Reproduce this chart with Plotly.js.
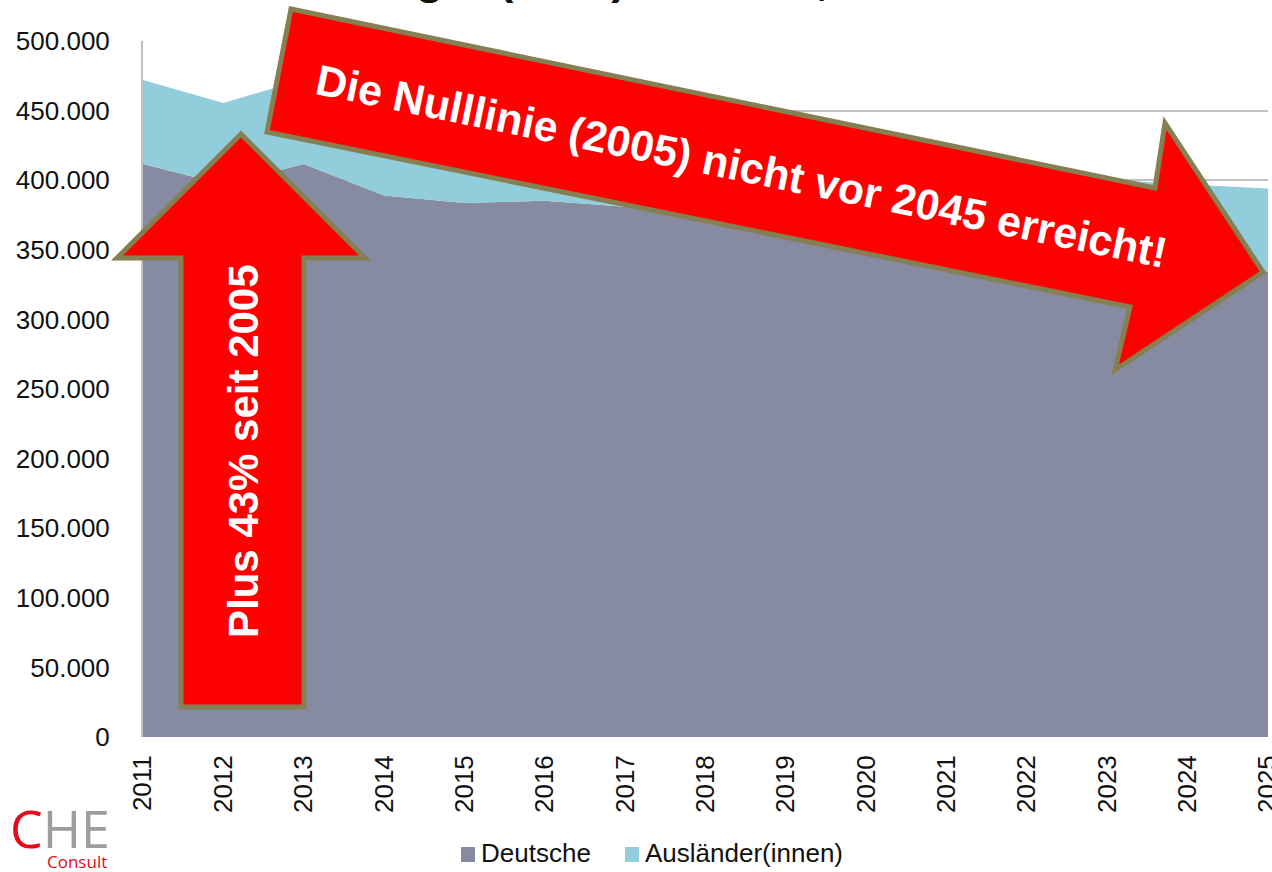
<!DOCTYPE html>
<html>
<head>
<meta charset="utf-8">
<script src="https://cdn.plot.ly/plotly-3.0.1.min.js"></script>
<style>
  html, body { margin: 0; padding: 0; background: #fff; width: 1272px; height: 872px; overflow: hidden; }
  #chart { width: 1272px; height: 872px; display: block; }
</style>
</head>
<body>
<div id="chart"></div>
<script>
// Data
let years = [2011, 2012, 2013, 2014, 2015, 2016, 2017, 2018, 2019, 2020, 2021, 2022, 2023, 2024, 2025]
let deutsche = [411600, 397000, 411600, 389000, 383600, 385200, 381000, 376000, 369000, 361000, 352000, 344000, 340000, 337000, 334000]
let auslaender = [60400, 58500, 60900, 77000, 77400, 70800, 69000, 68000, 67000, 66000, 66000, 64000, 60500, 60000, 60000]
let seriesNames = ["Deutsche", "Ausländer(innen)"]
let seriesColors = ["#878BA1", "#92CDDC"]
let yTicks = [0, 50000, 100000, 150000, 200000, 250000, 300000, 350000, 400000, 450000, 500000]

// plot area in pixels, used to place arrows and the legend
const L = 143, R = 1268, T = 41, B = 737
function px(x) { return (x - L) / (R - L) }
function py(y) { return (B - y) / (B - T) }
function poly(pts) {
  return pts.map((p, i) => (i ? "L" : "M") + px(p[0]).toFixed(5) + "," + py(p[1]).toFixed(5)).join(" ") + " Z"
}

let font = "Liberation Sans, Arial, sans-serif"

// Create the stacked area traces
let trace1 = {
  x: years, y: deutsche, name: seriesNames[0],
  stackgroup: "one", mode: "lines", line: {width: 0},
  fillcolor: seriesColors[0], showlegend: false, hoverinfo: "skip"
}
let trace2 = {
  x: years, y: auslaender, name: seriesNames[1],
  stackgroup: "one", mode: "lines", line: {width: 0},
  fillcolor: seriesColors[1], showlegend: false, hoverinfo: "skip"
}

let arrowStyle = {type: "path", xref: "paper", yref: "paper", fillcolor: "#FF0000",
  line: {color: "#857F52", width: 5}, layer: "above"}

let upArrow = Object.assign({}, arrowStyle, {
  path: poly([[241, 134], [365, 258], [304, 258], [304, 707], [181, 707], [181, 258], [117, 258]])
})
let rightArrow = Object.assign({}, arrowStyle, {
  path: poly([[291, 9], [1155, 188], [1165, 123], [1263, 272], [1115, 370], [1130, 307], [267, 132]])
})

// legend drawn by hand (Plotly's legend pushes the margins)
let legendX = [461, 625]
let legendShapes = legendX.map((x, i) => ({
  type: "rect", xref: "paper", yref: "paper", x0: px(x), x1: px(x + 14), y0: py(862), y1: py(847),
  fillcolor: seriesColors[i], line: {width: 0}
}))
let legendTexts = legendX.map((x, i) => ({
  text: seriesNames[i], xref: "paper", yref: "paper", x: px(x + 18), y: py(853),
  xanchor: "left", yanchor: "middle", showarrow: false,
  font: {family: font, size: 26, color: "#111"}
}))

let layout = {
  width: 1272, height: 872,
  margin: {l: L, r: 1272 - R, t: T, b: 872 - B},
  paper_bgcolor: "#fff", plot_bgcolor: "#fff",
  separators: ",.",
  showlegend: false,
  font: {family: font, size: 26, color: "#111"},
  xaxis: {
    type: "linear", range: [2011, 2025], tickvals: years, ticktext: years.map(String),
    tickangle: -90, showgrid: false, zeroline: false, showline: false,
    ticks: "", ticklabelstandoff: 12, ticklabeloverflow: "allow", automargin: false,
    tickfont: {family: font, size: 26, color: "#111"}
  },
  yaxis: {
    range: [0, 500000], tickvals: yTicks, tickformat: ",d",
    showgrid: true, gridcolor: "#C0C0C0", gridwidth: 2, zeroline: false,
    showline: true, linecolor: "#C0C0C0", linewidth: 2, layer: "below traces",
    ticks: "", ticklabelstandoff: 26, automargin: false,
    tickfont: {family: font, size: 26, color: "#111"}
  },
  shapes: [upArrow, rightArrow].concat(legendShapes),
  annotations: [
    {text: "Studienanfänger (2011) bis 2025, Deutschland", xref: "paper", yref: "paper",
      x: px(129), y: py(-22), xanchor: "left", yanchor: "middle", showarrow: false,
      font: {family: font, size: 45, color: "#111", weight: "bold"}},
    {text: "Die Nulllinie (2005) nicht vor 2045 erreicht!", xref: "paper", yref: "paper",
      x: px(741), y: py(166), xanchor: "center", yanchor: "middle", showarrow: false,
      textangle: 11.6, font: {family: font, size: 43, color: "#fff", weight: "bold"}},
    {text: "Plus 43% seit 2005", xref: "paper", yref: "paper",
      x: px(243), y: py(451), xanchor: "center", yanchor: "middle", showarrow: false,
      textangle: -90, font: {family: font, size: 42, color: "#fff", weight: "bold"}},
    {text: "<span style='color:#E30A1A'>C</span><span style='color:#9D9D9C'>HE</span>",
      xref: "paper", yref: "paper", x: px(60), y: py(827), xanchor: "center", yanchor: "middle",
      showarrow: false, font: {family: "Open Sans, sans-serif", size: 52}},
    {text: "Consult", xref: "paper", yref: "paper", x: px(77), y: py(862),
      xanchor: "center", yanchor: "middle", showarrow: false,
      font: {family: "Open Sans, sans-serif", size: 17, color: "#E30A1A"}}
  ].concat(legendTexts)
}

Plotly.newPlot("chart", [trace1, trace2], layout, {displayModeBar: false, staticPlot: true})
</script>
</body>
</html>
